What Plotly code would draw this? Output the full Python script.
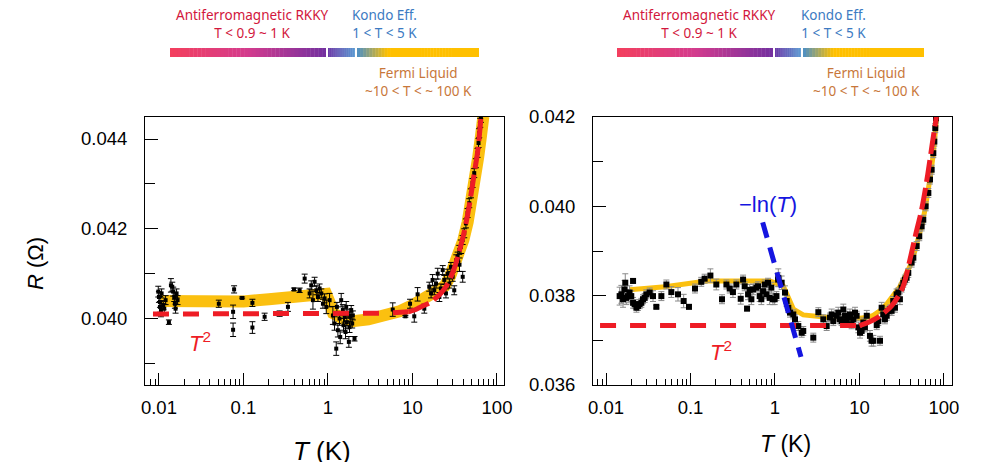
import plotly.graph_objects as go

# ---------------- Left panel data ----------------
left_T = [0.00982, 0.0100, 0.01028, 0.01028, 0.01056, 0.01075, 0.01125, 0.01156, 0.01199, 0.01312,
          0.01386, 0.01437, 0.01476, 0.01517, 0.01545, 0.01573, 0.01617, 0.01661,
          0.0511, 0.0775, 0.0754, 0.0754, 0.0964, 0.1276, 0.1276, 0.178, 0.268, 0.336, 0.396, 0.462,
          0.530, 0.607, 0.634, 0.664, 0.695, 0.728, 0.761, 0.796, 0.834, 0.872, 0.912, 0.955, 1.045,
          1.144, 1.197, 1.253, 1.275, 1.310, 1.371, 1.396, 1.434, 1.501, 1.528, 1.571, 1.614, 1.643,
          1.673, 1.719, 1.767, 1.799, 1.832, 1.883, 1.935, 1.970, 2.061,
          5.84, 8.24, 9.36, 10.5, 11.5, 13.8, 15.8, 16.6, 17.3, 18.1, 19.0, 19.9, 20.8, 21.7, 22.8,
          23.8, 24.9, 26.1, 27.3, 28.5, 29.9, 31.2,
          33.0, 34.2, 35.8, 36.0, 37.5, 39.2, 39.3, 41.0, 42.9, 44.9, 47.0, 49.2, 51.4, 53.8, 56.3,
          58.9, 60.5, 61.6, 63.4, 64.5]
left_R = [0.04060, 0.04048, 0.04037, 0.04026, 0.04019, 0.04056, 0.04030, 0.04022, 0.04041, 0.03992,
          0.04074, 0.04071, 0.04060, 0.04048, 0.04033, 0.04022, 0.04056, 0.04041,
          0.04033, 0.04065, 0.04015, 0.03975, 0.04046, 0.04035, 0.03980, 0.04004, 0.04011, 0.04026, 0.04065, 0.04063,
          0.04089, 0.04056, 0.04074, 0.04041, 0.04082, 0.04063, 0.04048, 0.04067, 0.04056, 0.04033, 0.04045, 0.04026, 0.04041,
          0.04007, 0.03989, 0.03933, 0.04026, 0.03974, 0.04000, 0.03959, 0.04041, 0.04019, 0.03985, 0.04004, 0.03970, 0.04026,
          0.03992, 0.04011, 0.03948, 0.03981, 0.04004, 0.04019, 0.03989, 0.04007, 0.03955,
          0.04020, 0.04005, 0.04033, 0.04005, 0.04054, 0.04022, 0.04071, 0.04056, 0.04086, 0.04063, 0.04078, 0.04100, 0.04048, 0.04067, 0.04108,
          0.04086, 0.04056, 0.04100, 0.04078, 0.04115, 0.04093, 0.04063,
          0.04130, 0.04138, 0.04153, 0.04120, 0.04160, 0.04175, 0.04093, 0.04190, 0.04212, 0.04235, 0.04257, 0.04279, 0.04302, 0.04324, 0.04346,
          0.04369, 0.04391, 0.04413, 0.04436, 0.04447]
left_err = [0.00012, 0.00012, 0.00012, 0.00012, 0.00015, 0.00010, 0.00010, 0.00010, 0.00010, 0.00005,
            0.00015, 0.00010, 0.00010, 0.00010, 0.00010, 0.00010, 0.00010, 0.00010,
            0.00008, 0.00008, 0.00015, 0.00015, 0.00002, 0.00008, 0.00013, 0.00008, 0.00006, 0.00010, 0.00003, 0.00005,
            0.00010, 0.00010, 0.00010, 0.00020, 0.00010, 0.00010, 0.00010, 0.00010, 0.00010, 0.00010, 0.00010, 0.00015, 0.00015,
            0.00020, 0.00015, 0.00015, 0.00010, 0.00015, 0.00015, 0.00015, 0.00015, 0.00012, 0.00015, 0.00012, 0.00015, 0.00012,
            0.00015, 0.00010, 0.00012, 0.00012, 0.00010, 0.00010, 0.00010, 0.00010, 0.00005,
            0.00015, 0.00002, 0.00010, 0.00013, 0.00015, 0.00010, 0.00010, 0.00010, 0.00012, 0.00010, 0.00010, 0.00012, 0.00010, 0.00010, 0.00010,
            0.00010, 0.00010, 0.00010, 0.00010, 0.00010, 0.00010, 0.00010,
            0.00012, 0.00010, 0.00010, 0.00015, 0.00015, 0.00010, 0.00012, 0.00010, 0.00010, 0.00010, 0.00010, 0.00010, 0.00010, 0.00010, 0.00010,
            0.00010, 0.00010, 0.00010, 0.00010, 0.00010]

# guide band (yellow) left
left_band_T = [0.0105, 0.02, 0.042, 0.1, 0.2, 0.37, 0.6, 0.8, 0.95, 1.05, 1.15, 1.5, 1.97, 3.0, 4.87,
               7.0, 10.0, 14.0, 19.0, 24.0, 28.0, 32.0, 36.0, 40.0, 45.0, 50.0, 55.0, 60.0, 65.0, 69.0]
left_band_R = [0.04039, 0.04037, 0.04036, 0.04038, 0.04043, 0.04050, 0.04056, 0.04058, 0.04055, 0.04035, 0.04012,
               0.04000, 0.03994, 0.03998, 0.04007, 0.04016, 0.04030, 0.04045, 0.04063, 0.04072, 0.04095, 0.04120,
               0.04148, 0.04175, 0.04215, 0.04260, 0.04310, 0.04360, 0.04410, 0.04450]

# T^2 fit (red) left
left_fit_flat_T = [0.0085, 0.1, 1.0, 5.0, 9.0]
left_fit_flat_R = [0.04010, 0.04010, 0.04010, 0.04012, 0.04015]
left_fit_rise_T = [9.0, 10.5, 12.0, 14.0, 16.6, 19.0, 22.0, 25.0, 27.3, 31.0, 35.8, 40.0, 45.0,
                   49.2, 54.0, 58.9, 62.0, 64.6, 67.0]
left_fit_rise_R = [0.04015, 0.04019, 0.04024, 0.04030, 0.04037, 0.04046, 0.04058, 0.04072, 0.04085, 0.04110,
                   0.04150, 0.04185, 0.04232, 0.04275, 0.04325, 0.04370, 0.04410, 0.04447, 0.04480]

# ---------------- Right panel data ----------------
right_T = [0.0145, 0.0152, 0.0159, 0.0166, 0.0169, 0.0174, 0.0182, 0.0190, 0.0199, 0.0209, 0.0209, 0.0218,
           0.0229, 0.0239, 0.0250, 0.0262, 0.0274, 0.0287, 0.0300, 0.0329, 0.0360, 0.0394, 0.0452, 0.0518,
           0.0593, 0.0711, 0.0830, 0.0959, 0.113, 0.134, 0.147, 0.172, 0.202, 0.236, 0.266, 0.291, 0.318,
           0.349, 0.393, 0.419, 0.438, 0.467, 0.480, 0.502, 0.525, 0.549, 0.602, 0.630, 0.659, 0.689, 0.722,
           0.755, 0.790, 0.827, 0.865, 0.905, 0.946, 0.991, 1.04, 1.09,
           1.095, 1.199, 1.313, 1.374, 1.438, 1.506, 1.648, 1.725, 1.888, 2.07, 2.16, 2.84, 3.26, 3.73,
           4.09, 4.48, 4.69, 4.90, 5.37, 5.61, 5.88, 6.15, 6.44, 6.73, 7.05, 7.38, 7.72, 8.08, 8.45, 8.85,
           9.26, 9.69, 10.14, 10.6, 11.1, 11.6, 12.2, 13.3, 13.9, 14.6, 16.0, 16.7, 17.5, 18.3, 19.1, 20.0,
           21.0, 21.9, 23.0, 24.0, 25.1, 26.3, 27.5, 28.8, 30.1, 31.5, 33.0, 34.5, 36.1,
           37.8, 41.4, 43.4, 47.5, 51.0, 54.4, 56.9, 60.7, 65.3, 68.3, 71.5, 74.8, 76.9, 78.9, 80.4]
right_R = [0.03799, 0.03803, 0.03792, 0.03814, 0.03829, 0.03795, 0.03799, 0.03807, 0.03799, 0.03833, 0.03784, 0.03781,
           0.03773, 0.03777, 0.03781, 0.03784, 0.03792, 0.03795, 0.03803, 0.03807, 0.03799, 0.03775, 0.03799, 0.03825,
           0.03808, 0.03803, 0.03788, 0.03775, 0.03816, 0.03831, 0.03838, 0.03845, 0.03825, 0.03792, 0.03825, 0.03816, 0.03808,
           0.03825, 0.03793, 0.03836, 0.03821, 0.03771, 0.03803, 0.03813, 0.03792, 0.03814, 0.03818, 0.03821, 0.03799, 0.03792, 0.03810,
           0.03825, 0.03803, 0.03829, 0.03795, 0.03818, 0.03792, 0.03792, 0.03799, 0.03836,
           0.03840, 0.03829, 0.03807, 0.03788, 0.03773, 0.03762, 0.03758, 0.03747, 0.03732, 0.03717, 0.03721, 0.03706, 0.03763, 0.03747,
           0.03732, 0.03751, 0.03758, 0.03743, 0.03755, 0.03762, 0.03747, 0.03743, 0.03769, 0.03755, 0.03743, 0.03751, 0.03758, 0.03736, 0.03747, 0.03762,
           0.03755, 0.03729, 0.03717, 0.03721, 0.03740, 0.03729, 0.03755, 0.03710, 0.03699, 0.03699, 0.03734, 0.03743, 0.03699, 0.03773, 0.03758, 0.03747,
           0.03755, 0.03766, 0.03769, 0.03766, 0.03788, 0.03773, 0.03803, 0.03807, 0.03792, 0.03818, 0.03829, 0.03836, 0.03840,
           0.03851, 0.03874, 0.03885, 0.03911, 0.03933, 0.03955, 0.03970, 0.04000, 0.04030, 0.04060, 0.04082, 0.04119, 0.04145, 0.04175, 0.04197]
right_err = [0.00020, 0.00020, 0.00018, 0.00020, 0.00020, 0.00015, 0.00015, 0.00015, 0.00012, 0.00005, 0.00012, 0.00010,
             0.00010, 0.00010, 0.00010, 0.00010, 0.00010, 0.00010, 0.00010, 0.00010, 0.00012, 0.00003, 0.00010, 0.00010,
             0.00012, 0.00015, 0.00015, 0.00005, 0.00010, 0.00010, 0.00010, 0.00015, 0.00012, 0.00010, 0.00010, 0.00010, 0.00012,
             0.00010, 0.00012, 0.00010, 0.00010, 0.00005, 0.00012, 0.00012, 0.00012, 0.00012, 0.00010, 0.00010, 0.00012, 0.00012, 0.00010,
             0.00010, 0.00010, 0.00010, 0.00015, 0.00012, 0.00012, 0.00012, 0.00010, 0.00015,
             0.00020, 0.00015, 0.00015, 0.00012, 0.00010, 0.00010, 0.00010, 0.00010, 0.00010, 0.00010, 0.00010, 0.00010, 0.00010, 0.00010,
             0.00010, 0.00010, 0.00012, 0.00010, 0.00012, 0.00012, 0.00010, 0.00010, 0.00012, 0.00010, 0.00010, 0.00010, 0.00012, 0.00010, 0.00010, 0.00012,
             0.00010, 0.00012, 0.00012, 0.00010, 0.00010, 0.00010, 0.00012, 0.00012, 0.00012, 0.00012, 0.00010, 0.00010, 0.00010, 0.00012, 0.00012, 0.00010,
             0.00010, 0.00010, 0.00010, 0.00010, 0.00010, 0.00010, 0.00012, 0.00010, 0.00012, 0.00010, 0.00010, 0.00010, 0.00010,
             0.00010, 0.00010, 0.00010, 0.00010, 0.00010, 0.00010, 0.00010, 0.00010, 0.00010, 0.00010, 0.00010, 0.00010, 0.00010, 0.00010, 0.00010]

right_band_T = [0.019, 0.05, 0.155, 0.4, 0.87, 1.25, 1.65, 2.16, 3.41, 5.0, 8.5, 12.0, 14.6, 18.0, 20.9,
                25.0, 30.0, 35.0, 40.0, 45.0, 50.0, 55.0, 60.0, 65.0, 70.0, 75.0, 82.0]
right_band_R = [0.03813, 0.03820, 0.03833, 0.03834, 0.03833, 0.03822, 0.03770, 0.03757, 0.03752, 0.03750, 0.03748,
                0.03751, 0.03756, 0.03768, 0.03781, 0.03800, 0.03820, 0.03845, 0.03868, 0.03898, 0.03928, 0.03960,
                0.03995, 0.04030, 0.04075, 0.04120, 0.04200]

right_fit_flat_T = [0.0085, 0.1, 1.0, 10.0]
right_fit_flat_R = [0.03733, 0.03733, 0.03733, 0.03733]
right_fit_rise_T = [10.0, 13.0, 16.7, 20.0, 24.0, 28.0, 33.0, 39.6, 46.0, 54.4, 61.0, 68.2, 74.0, 80.4, 83.0]
right_fit_rise_R = [0.03733, 0.03741, 0.03752, 0.03763, 0.03777, 0.03795, 0.03822, 0.03881, 0.03935, 0.03993,
                    0.04045, 0.04104, 0.04150, 0.04194, 0.04215]

right_ln_T = [0.715, 2.03]
right_ln_R = [0.03964, 0.03663]

tick_vals = [0.01, 0.1, 1, 10, 100]
tick_text = ["0.01", "0.1", "1", "10", "100"]

regime_labels = [
    ("Antiferromagnetic RKKY<br>T < 0.9 ~ 1 K", "#D2163C"),
    ("Kondo Eff.<br>1 < T < 5 K", "#3C7AC2"),
    ("Fermi Liquid<br>~10 < T < ~ 100 K", "#C8773A"),
]

GOLD = "#FBC010"
RED = "#EE1C25"
BLUE = "#1515E0"

fig = go.Figure()


def add_panel(xa, ya, band_T, band_R, band_w, T, R, err, ecol, msize, flatT, flatR, riseT, riseR):
    fig.add_trace(go.Scatter(x=band_T, y=band_R, mode="lines", xaxis=xa, yaxis=ya,
                             line=dict(color=GOLD, width=band_w), showlegend=False,
                             hoverinfo="skip"))
    fig.add_trace(go.Scatter(x=T, y=R, mode="markers", xaxis=xa, yaxis=ya,
                             marker=dict(symbol="square", size=msize, color="black"),
                             error_y=dict(type="data", array=err, color=ecol, thickness=1, width=3),
                             showlegend=False))
    fig.add_trace(go.Scatter(x=flatT, y=flatR, mode="lines", xaxis=xa, yaxis=ya,
                             line=dict(color=RED, width=5, dash="16px,14px"), showlegend=False))
    fig.add_trace(go.Scatter(x=riseT, y=riseR, mode="lines", xaxis=xa, yaxis=ya,
                             line=dict(color=RED, width=5, dash="22px,6px", shape="spline"), showlegend=False))


add_panel("x", "y", left_band_T, left_band_R, 12, left_T, left_R, left_err, "black", 4,
          left_fit_flat_T, left_fit_flat_R, left_fit_rise_T, left_fit_rise_R)
add_panel("x2", "y2", right_band_T, right_band_R, 5, right_T, right_R, right_err, "#8a8a8a", 6,
          right_fit_flat_T, right_fit_flat_R, right_fit_rise_T, right_fit_rise_R)
fig.add_trace(go.Scatter(x=right_ln_T, y=right_ln_R, mode="lines", xaxis="x2", yaxis="y2",
                         line=dict(color=BLUE, width=5, dash="16px,10px"), showlegend=False))

W, H = 1008, 462
OFF = 8  # page body margin: shift everything so it lands where the reference has it


def px(x):
    return (x - OFF) / W


def py(y):
    return 1 - (y - OFF) / H


TICKFONT = dict(family="Liberation Sans, Arial, sans-serif", size=18.5, color="black")

minor_vals = [m * 10 ** e for e in range(-3, 3) for m in range(2, 10)]


def xaxis_cfg(x0, x1, rng):
    return dict(type="log", domain=[px(x0), px(x1)], range=rng, tickmode="array", tickvals=tick_vals,
                ticktext=tick_text, ticks="inside", ticklen=12, tickcolor="black", tickwidth=1,
                showline=True, mirror=True, linecolor="black", linewidth=1, showgrid=False, zeroline=False,
                tickfont=TICKFONT, ticklabelstandoff=6,
                minor=dict(tickmode="array", tickvals=minor_vals, ticks="inside", ticklen=6,
                           tickcolor="black", showgrid=False))


def yaxis_cfg(rng, tick0, anchor):
    return dict(domain=[py(385), py(117)], range=rng, tick0=tick0, dtick=0.002, tickformat=".3f",
                ticks="inside", ticklen=13, tickcolor="black", showline=True, mirror=True, linecolor="black",
                linewidth=1, showgrid=False, zeroline=False, tickfont=TICKFONT, anchor=anchor,
                ticklabelstandoff=13,
                minor=dict(dtick=0.001, tick0=tick0, ticks="inside", ticklen=10, tickcolor="black",
                           showgrid=False))


fig.update_layout(
    width=W, height=H, margin=dict(l=0, r=0, t=0, b=0, autoexpand=False),
    paper_bgcolor="white", plot_bgcolor="white",
    xaxis=dict(xaxis_cfg(145, 504, [-2.165, 2.083]), anchor="y"),
    yaxis=yaxis_cfg([0.03852, 0.04449], 0.038, "x"),
    xaxis2=dict(xaxis_cfg(593, 952, [-2.154, 2.095]), anchor="y2"),
    yaxis2=yaxis_cfg([0.036, 0.042], 0.036, "x2"),
)


# ---------- top gradient bars ----------
def hex2rgb(h):
    h = h.lstrip("#")
    return tuple(int(h[i:i + 2], 16) for i in (0, 2, 4))


def interp(stops, t):
    for (a, ca), (b, cb) in zip(stops[:-1], stops[1:]):
        if a <= t <= b:
            f = 0 if b == a else (t - a) / (b - a)
            r1, g1, b1 = hex2rgb(ca)
            r2, g2, b2 = hex2rgb(cb)
            return "rgb(%d,%d,%d)" % (r1 + (r2 - r1) * f, g1 + (g2 - g1) * f, b1 + (b2 - b1) * f)
    return stops[-1][1]


seg_stops = [
    [(0, "#F4405E"), (0.5, "#D43C8E"), (1, "#7330A0")],
    [(0, "#6C3AA8"), (1, "#5B9AD2")],
    [(0, "#4A8FC8"), (0.25, "#FFC000"), (1, "#FFC000")],
]
shapes = []
for segs in [[(170, 326), (328, 355), (357, 479)], [(617, 773), (775, 801), (803, 924)]]:
    for (xa0, xa1), stops in zip(segs, seg_stops):
        n = 40
        for i in range(n):
            sx0 = xa0 + (xa1 - xa0) * i / n
            sx1 = min(xa0 + (xa1 - xa0) * (i + 1) / n + 0.4, xa1)
            shapes.append(dict(type="rect", xref="paper", yref="paper", x0=px(sx0), x1=px(sx1),
                               y0=py(57), y1=py(48), fillcolor=interp(stops, (i + 0.5) / n),
                               line=dict(width=0), layer="above"))
fig.update_layout(shapes=shapes)

LBLFONT = "Noto Sans, DejaVu Sans, sans-serif"
ann = []


def txt(x, y, s, color, size, family=LBLFONT, angle=0):
    ann.append(dict(x=px(x), y=py(y), xref="paper", yref="paper", text=s, showarrow=False,
                    xanchor="center", yanchor="middle", textangle=angle, borderpad=0,
                    font=dict(family=family, size=size, color=color)))


for centers in [[(252, 23.5), (384, 23.5), (418, 82)], [(699, 23.5), (833, 23.5), (866, 82)]]:
    for (cx, cy), (label, col) in zip(centers, regime_labels):
        txt(cx, cy, label, col, 13.5)

AX = "Liberation Sans, Arial, sans-serif"
txt(35, 264, "<i>R</i> (Ω)", "black", 22, AX, -90)
txt(322, 451, "<i>T</i> (K)", "black", 26, AX)
txt(785, 444, "<i>T</i> (K)", "black", 23, AX)
txt(200, 342, "<i>T</i><sup>2</sup>", RED, 22, AX)
txt(721, 351, "<i>T</i><sup>2</sup>", RED, 22, AX)
txt(768, 205, "−ln(<i>T</i>)", BLUE, 22, AX)
fig.update_layout(annotations=ann)

fig.write_html("out.html")
